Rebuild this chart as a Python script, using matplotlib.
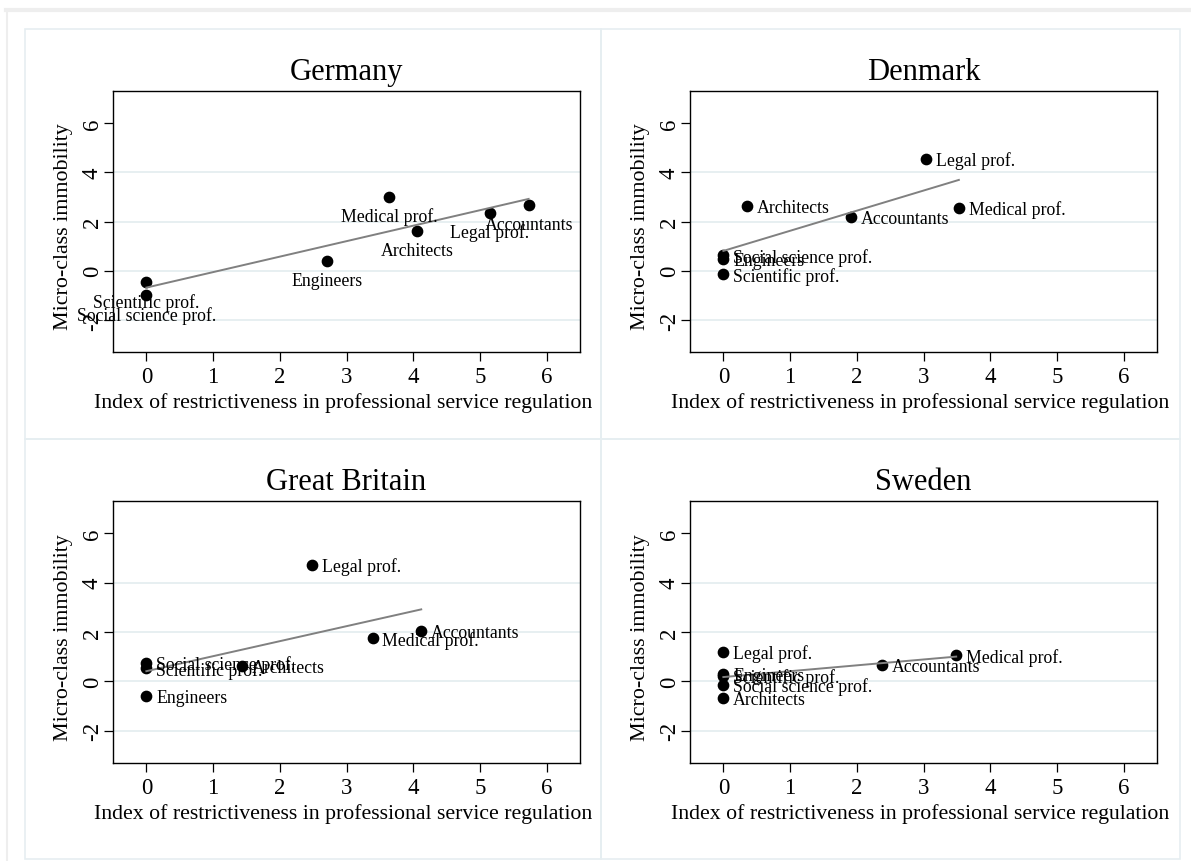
import numpy as np
import matplotlib.pyplot as plt
from matplotlib.patches import Rectangle
from matplotlib.lines import Line2D

plt.rcParams['font.family'] = ['Liberation Serif', 'DejaVu Serif']
plt.rcParams['axes.unicode_minus'] = False

# data
de_names = ["Scientific prof.", "Social science prof.", "Engineers", "Medical prof.",
            "Architects", "Legal prof.", "Accountants"]
de_x = [0, 0, 2.71, 3.64, 4.06, 5.15, 5.73]
de_y = [-0.47, -0.99, 0.40, 3.00, 1.62, 2.35, 2.68]

dk_names = ["Legal prof.", "Architects", "Accountants", "Medical prof.",
            "Social science prof.", "Engineers", "Scientific prof."]
dk_x = [3.04, 0.35, 1.92, 3.53, 0, 0, 0]
dk_y = [4.55, 2.63, 2.19, 2.55, 0.63, 0.46, -0.15]

gb_names = ["Legal prof.", "Accountants", "Medical prof.", "Architects",
            "Social science prof.", "Scientific prof.", "Engineers"]
gb_x = [2.49, 4.12, 3.39, 1.43, 0, 0, 0]
gb_y = [4.71, 2.05, 1.75, 0.64, 0.76, 0.53, -0.60]

se_names = ["Legal prof.", "Engineers", "Scientific prof.", "Social science prof.",
            "Architects", "Accountants", "Medical prof."]
se_x = [0, 0, 0, 0, 0, 2.38, 3.49]
se_y = [1.21, 0.30, 0.22, -0.15, -0.67, 0.66, 1.06]

xticks = [0, 1, 2, 3, 4, 5, 6]
yticks = [-2, 0, 2, 4, 6]
gridvals = [-2, 0, 2, 4]

W, H = 1191, 862
fig = plt.figure(figsize=(W / 100, H / 100), dpi=100)
fig.patch.set_facecolor('white')

def px_rect(l, t, r, b):
    return [l / W, 1 - b / H, (r - l) / W, (b - t) / H]

# outer frame and panel outlines
fig.add_artist(Line2D([6 / W, 1], [1 - 11 / H] * 2, color='#eeeeee', lw=3, transform=fig.transFigure))
fig.add_artist(Line2D([7 / W] * 2, [0, 1 - 11 / H], color='#eeeeee', lw=1.5, transform=fig.transFigure))
for l, t, r, b in [(25, 30, 601, 440), (601, 30, 1180, 440), (25, 440, 601, 860), (601, 440, 1180, 860)]:
    fig.add_artist(Rectangle((l / W, 1 - b / H), (r - l) / W, (b - t) / H, fill=False,
                             edgecolor='#e6eef1', lw=1.2, transform=fig.transFigure))

panels = [
    ("Germany", de_names, de_x, de_y, (113, 92, 580, 353), 'below'),
    ("Denmark", dk_names, dk_x, dk_y, (690, 92, 1157, 353), 'right'),
    ("Great Britain", gb_names, gb_x, gb_y, (113, 502, 580, 764), 'right'),
    ("Sweden", se_names, se_x, se_y, (690, 502, 1157, 764), 'right'),
]

for title, names, x, y, box, pos in panels:
    ax = fig.add_axes(px_rect(*box))
    x = np.array(x)
    y = np.array(y)
    for g in gridvals:
        ax.axhline(g, color='#e3ecef', lw=1.2, zorder=0)
    ax.scatter(x, y, s=55, color='black', zorder=3)
    b1, b0 = np.polyfit(x, y, 1)
    xs = np.array([x.min(), x.max()])
    ax.plot(xs, b0 + b1 * xs, color='#808080', lw=1.4, zorder=4)
    for n, xi, yi in zip(names, x, y):
        if pos == 'below':
            ax.annotate(n, (xi, yi), xytext=(0, -14), textcoords='offset points',
                        ha='center', va='center', fontsize=12.8, zorder=5)
        else:
            ax.annotate(n, (xi, yi), xytext=(7, -1), textcoords='offset points',
                        ha='left', va='center', fontsize=12.8, zorder=5)
    ax.set_xlim(-0.5, 6.5)
    ax.set_ylim(-3.3, 7.3)
    ax.set_xticks(xticks)
    ax.set_yticks(yticks)
    ax.tick_params(direction='out', length=6.5, width=0.9, labelsize=16.5, color='black')
    ax.tick_params(axis='x', pad=3.5)
    ax.tick_params(axis='y', pad=8.5)
    for lbl in ax.get_yticklabels():
        lbl.set_rotation(90)
        lbl.set_va('center')
        lbl.set_ha('center')
    for s in ax.spines.values():
        s.set_linewidth(1.0)
        s.set_color('black')
    ax.set_title(title, fontsize=22, pad=8.4)
    ax.set_xlabel("Index of restrictiveness in professional service regulation", fontsize=15.7)
    ax.xaxis.set_label_coords(0.4925, -0.192)
    ax.xaxis.label.set_va('center')
    ax.set_ylabel("Micro-class immobility", fontsize=15.8)
    ax.yaxis.set_label_coords(-0.105, 0.483)
    ax.yaxis.label.set_va('center')

fig.savefig("out.png", dpi=100, facecolor='white')
